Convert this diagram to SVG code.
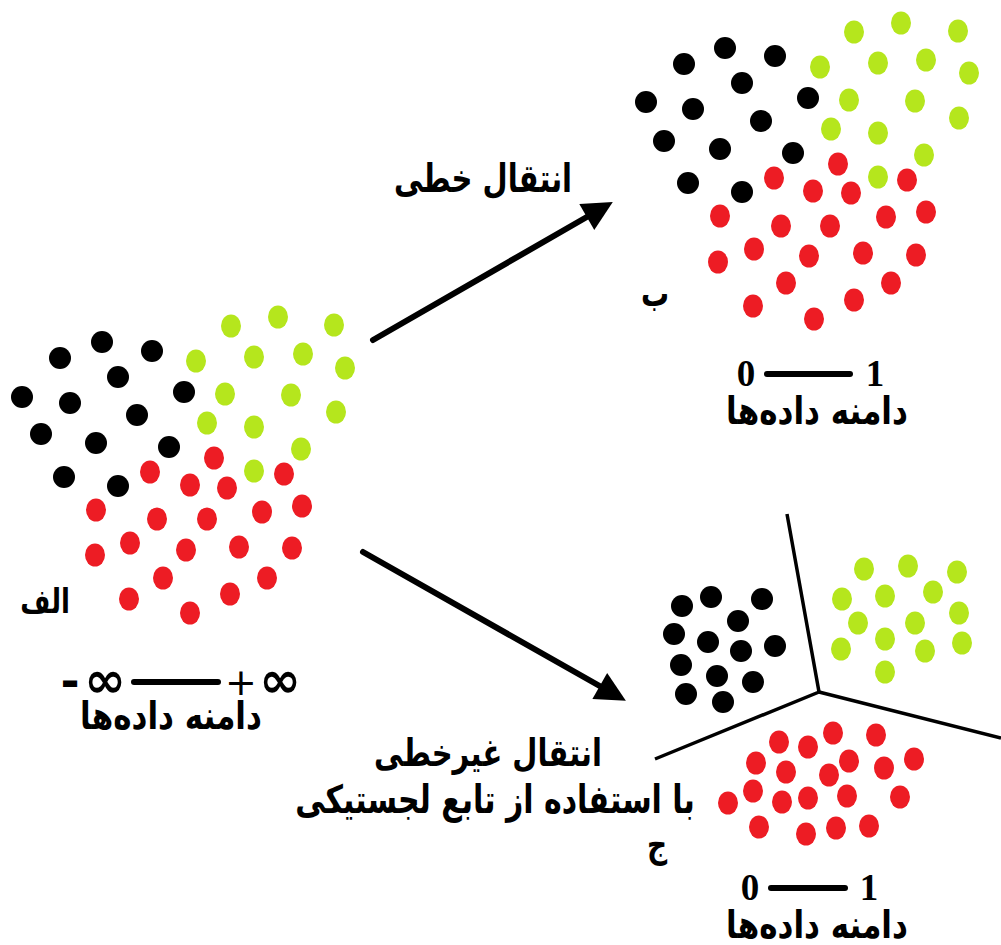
<svg xmlns="http://www.w3.org/2000/svg" width="1001" height="945" viewBox="0 0 1001 945">
<style>
.k{fill:#000}
.g{fill:#b5e61d}
.r{fill:#ed1c24}
.fa{font-family:"DejaVu Sans",sans-serif;font-weight:bold;fill:#000;text-anchor:middle}
.num{font-family:"Liberation Serif",serif;fill:#000;text-anchor:middle}
.sym{font-family:"DejaVu Sans",sans-serif;fill:#000;text-anchor:middle}
.ax{stroke:#000;stroke-width:6;stroke-linecap:round}
.arr{stroke:#000;stroke-width:6;stroke-linecap:round;fill:none}
.sep{stroke:#000;stroke-width:3.5;fill:none;stroke-linejoin:miter}
</style>
<defs>
<marker id="ah" viewBox="0 0 10 10" refX="2" refY="5" markerWidth="6" markerHeight="5" markerUnits="strokeWidth" orient="auto">
<path d="M0,0 L10,5 L0,10 z" fill="#000"/>
</marker>
</defs>
<rect width="1001" height="945" fill="#fff"/>

<g id="cluster-a">
<circle class="k" cx="60" cy="358" r="11"/><circle class="k" cx="102" cy="342" r="11"/><circle class="k" cx="152" cy="351" r="11"/>
<circle class="k" cx="118" cy="377" r="11"/><circle class="k" cx="184" cy="392" r="11"/><circle class="k" cx="22" cy="397" r="11"/>
<circle class="k" cx="70" cy="403" r="11"/><circle class="k" cx="137" cy="415" r="11"/><circle class="k" cx="41" cy="434" r="11"/>
<circle class="k" cx="96" cy="443" r="11"/><circle class="k" cx="169" cy="447" r="11"/><circle class="k" cx="64" cy="477" r="11"/>
<circle class="k" cx="118" cy="486" r="11"/>
<ellipse class="g" cx="231" cy="326" rx="10" ry="11.5"/><ellipse class="g" cx="278" cy="317" rx="10" ry="11.5"/><ellipse class="g" cx="334" cy="325" rx="10" ry="11.5"/>
<ellipse class="g" cx="196" cy="361" rx="10" ry="11.5"/><ellipse class="g" cx="254" cy="357" rx="10" ry="11.5"/><ellipse class="g" cx="303" cy="354" rx="10" ry="11.5"/>
<ellipse class="g" cx="345" cy="368" rx="10" ry="11.5"/><ellipse class="g" cx="225" cy="394" rx="10" ry="11.5"/><ellipse class="g" cx="291" cy="395" rx="10" ry="11.5"/>
<ellipse class="g" cx="336" cy="412" rx="10" ry="11.5"/><ellipse class="g" cx="207" cy="423" rx="10" ry="11.5"/><ellipse class="g" cx="254" cy="427" rx="10" ry="11.5"/>
<ellipse class="g" cx="301" cy="449" rx="10" ry="11.5"/><ellipse class="g" cx="254" cy="471" rx="10" ry="11.5"/>
<ellipse class="r" cx="214" cy="458" rx="10" ry="11.5"/><ellipse class="r" cx="150" cy="472" rx="10" ry="11.5"/><ellipse class="r" cx="190" cy="485" rx="10" ry="11.5"/>
<ellipse class="r" cx="227" cy="488" rx="10" ry="11.5"/><ellipse class="r" cx="284" cy="474" rx="10" ry="11.5"/><ellipse class="r" cx="96" cy="510" rx="10" ry="11.5"/>
<ellipse class="r" cx="157" cy="519" rx="10" ry="11.5"/><ellipse class="r" cx="207" cy="519" rx="10" ry="11.5"/><ellipse class="r" cx="262" cy="512" rx="10" ry="11.5"/>
<ellipse class="r" cx="302" cy="506" rx="10" ry="11.5"/><ellipse class="r" cx="130" cy="543" rx="10" ry="11.5"/><ellipse class="r" cx="95" cy="555" rx="10" ry="11.5"/>
<ellipse class="r" cx="186" cy="550" rx="10" ry="11.5"/><ellipse class="r" cx="239" cy="547" rx="10" ry="11.5"/><ellipse class="r" cx="292" cy="548" rx="10" ry="11.5"/>
<ellipse class="r" cx="163" cy="578" rx="10" ry="11.5"/><ellipse class="r" cx="267" cy="578" rx="10" ry="11.5"/><ellipse class="r" cx="129" cy="599" rx="10" ry="11.5"/>
<ellipse class="r" cx="230" cy="594" rx="10" ry="11.5"/><ellipse class="r" cx="190" cy="613" rx="10" ry="11.5"/>
<text class="fa" transform="translate(45,613) scale(1,1.3)" font-size="26">الف</text>
<text class="sym" x="70" y="697" font-size="46" font-weight="bold">-</text>
<text class="sym" x="105" y="697" font-size="50" font-weight="bold">∞</text>
<line class="ax" x1="134" y1="682" x2="218" y2="682"/>
<text class="sym" x="241" y="695" font-size="38">+</text>
<text class="sym" x="280" y="697" font-size="50" font-weight="bold">∞</text>
<text class="fa" transform="translate(171,729) scale(1,1.25)" font-size="31">دامنه داده‌ها</text>
</g>

<g id="cluster-b">
<circle class="k" cx="684" cy="64" r="11"/><circle class="k" cx="725" cy="48" r="11"/><circle class="k" cx="775" cy="56" r="11"/>
<circle class="k" cx="742" cy="83" r="11"/><circle class="k" cx="808" cy="98" r="11"/><circle class="k" cx="646" cy="102" r="11"/>
<circle class="k" cx="693" cy="109" r="11"/><circle class="k" cx="761" cy="121" r="11"/><circle class="k" cx="664" cy="141" r="11"/>
<circle class="k" cx="720" cy="149" r="11"/><circle class="k" cx="793" cy="153" r="11"/><circle class="k" cx="688" cy="183" r="11"/>
<circle class="k" cx="742" cy="192" r="11"/>
<ellipse class="g" cx="854" cy="32" rx="10" ry="11.5"/><ellipse class="g" cx="901" cy="23" rx="10" ry="11.5"/><ellipse class="g" cx="958" cy="31" rx="10" ry="11.5"/>
<ellipse class="g" cx="820" cy="67" rx="10" ry="11.5"/><ellipse class="g" cx="878" cy="63" rx="10" ry="11.5"/><ellipse class="g" cx="926" cy="60" rx="10" ry="11.5"/>
<ellipse class="g" cx="969" cy="73" rx="10" ry="11.5"/><ellipse class="g" cx="849" cy="100" rx="10" ry="11.5"/><ellipse class="g" cx="915" cy="101" rx="10" ry="11.5"/>
<ellipse class="g" cx="959" cy="118" rx="10" ry="11.5"/><ellipse class="g" cx="831" cy="129" rx="10" ry="11.5"/><ellipse class="g" cx="878" cy="133" rx="10" ry="11.5"/>
<ellipse class="g" cx="924" cy="155" rx="10" ry="11.5"/><ellipse class="g" cx="878" cy="177" rx="10" ry="11.5"/>
<ellipse class="r" cx="838" cy="164" rx="10" ry="11.5"/><ellipse class="r" cx="774" cy="178" rx="10" ry="11.5"/><ellipse class="r" cx="813" cy="191" rx="10" ry="11.5"/>
<ellipse class="r" cx="851" cy="193" rx="10" ry="11.5"/><ellipse class="r" cx="907" cy="180" rx="10" ry="11.5"/><ellipse class="r" cx="720" cy="216" rx="10" ry="11.5"/>
<ellipse class="r" cx="781" cy="226" rx="10" ry="11.5"/><ellipse class="r" cx="830" cy="226" rx="10" ry="11.5"/><ellipse class="r" cx="886" cy="217" rx="10" ry="11.5"/>
<ellipse class="r" cx="926" cy="212" rx="10" ry="11.5"/><ellipse class="r" cx="754" cy="249" rx="10" ry="11.5"/><ellipse class="r" cx="718" cy="262" rx="10" ry="11.5"/>
<ellipse class="r" cx="809" cy="256" rx="10" ry="11.5"/><ellipse class="r" cx="863" cy="253" rx="10" ry="11.5"/><ellipse class="r" cx="916" cy="255" rx="10" ry="11.5"/>
<ellipse class="r" cx="786" cy="283" rx="10" ry="11.5"/><ellipse class="r" cx="891" cy="283" rx="10" ry="11.5"/><ellipse class="r" cx="753" cy="306" rx="10" ry="11.5"/>
<ellipse class="r" cx="854" cy="300" rx="10" ry="11.5"/><ellipse class="r" cx="814" cy="319" rx="10" ry="11.5"/>
<text class="fa" transform="translate(655,306) scale(1,1.3)" font-size="28">ب</text>
<text class="num" x="746" y="386" font-size="37" font-weight="bold">0</text>
<line class="ax" x1="767" y1="374" x2="850" y2="374"/>
<text class="num" x="875" y="386" font-size="37" font-weight="bold">1</text>
<text class="fa" transform="translate(817,424) scale(1,1.25)" font-size="31">دامنه داده‌ها</text>
</g>

<g id="cluster-c">
<polyline class="sep" points="787,514 819,692 655,759"/>
<line class="sep" x1="819" y1="692" x2="1001" y2="738"/>
<circle class="k" cx="682" cy="606" r="11"/><circle class="k" cx="711" cy="597" r="11"/><circle class="k" cx="762" cy="599" r="11"/>
<circle class="k" cx="738" cy="621" r="11"/><circle class="k" cx="674" cy="634" r="11"/><circle class="k" cx="708" cy="642" r="11"/>
<circle class="k" cx="741" cy="651" r="11"/><circle class="k" cx="775" cy="646" r="11"/><circle class="k" cx="681" cy="665" r="11"/>
<circle class="k" cx="717" cy="676" r="11"/><circle class="k" cx="753" cy="682" r="11"/><circle class="k" cx="686" cy="694" r="11"/>
<circle class="k" cx="723" cy="702" r="11"/>
<ellipse class="g" cx="864" cy="569" rx="10" ry="11.5"/><ellipse class="g" cx="908" cy="566" rx="10" ry="11.5"/><ellipse class="g" cx="957" cy="572" rx="10" ry="11.5"/>
<ellipse class="g" cx="842" cy="599" rx="10" ry="11.5"/><ellipse class="g" cx="885" cy="596" rx="10" ry="11.5"/><ellipse class="g" cx="933" cy="592" rx="10" ry="11.5"/>
<ellipse class="g" cx="959" cy="613" rx="10" ry="11.5"/><ellipse class="g" cx="858" cy="623" rx="10" ry="11.5"/><ellipse class="g" cx="915" cy="623" rx="10" ry="11.5"/>
<ellipse class="g" cx="841" cy="649" rx="10" ry="11.5"/><ellipse class="g" cx="885" cy="639" rx="10" ry="11.5"/><ellipse class="g" cx="925" cy="651" rx="10" ry="11.5"/>
<ellipse class="g" cx="962" cy="643" rx="10" ry="11.5"/><ellipse class="g" cx="885" cy="672" rx="10" ry="11.5"/>
<ellipse class="r" cx="833" cy="733" rx="10" ry="11.5"/><ellipse class="r" cx="876" cy="735" rx="10" ry="11.5"/><ellipse class="r" cx="779" cy="742" rx="10" ry="11.5"/>
<ellipse class="r" cx="808" cy="747" rx="10" ry="11.5"/><ellipse class="r" cx="756" cy="763" rx="10" ry="11.5"/><ellipse class="r" cx="849" cy="761" rx="10" ry="11.5"/>
<ellipse class="r" cx="914" cy="759" rx="10" ry="11.5"/><ellipse class="r" cx="786" cy="772" rx="10" ry="11.5"/><ellipse class="r" cx="829" cy="775" rx="10" ry="11.5"/>
<ellipse class="r" cx="884" cy="768" rx="10" ry="11.5"/><ellipse class="r" cx="753" cy="791" rx="10" ry="11.5"/><ellipse class="r" cx="808" cy="798" rx="10" ry="11.5"/>
<ellipse class="r" cx="847" cy="796" rx="10" ry="11.5"/><ellipse class="r" cx="900" cy="797" rx="10" ry="11.5"/><ellipse class="r" cx="728" cy="803" rx="10" ry="11.5"/>
<ellipse class="r" cx="782" cy="802" rx="10" ry="11.5"/><ellipse class="r" cx="759" cy="827" rx="10" ry="11.5"/><ellipse class="r" cx="806" cy="834" rx="10" ry="11.5"/>
<ellipse class="r" cx="836" cy="828" rx="10" ry="11.5"/><ellipse class="r" cx="869" cy="826" rx="10" ry="11.5"/>
<text class="fa" transform="translate(657,857) scale(1,1.3)" font-size="28">ج</text>
<text class="num" x="750" y="900" font-size="37" font-weight="bold">0</text>
<line class="ax" x1="771" y1="888" x2="845" y2="888"/>
<text class="num" x="869" y="900" font-size="37" font-weight="bold">1</text>
<text class="fa" transform="translate(817,938) scale(1,1.25)" font-size="31">دامنه داده‌ها</text>
</g>

<g id="connectors">
<line class="arr" x1="373" y1="340" x2="592" y2="214" marker-end="url(#ah)"/>
<line class="arr" x1="363" y1="552" x2="605" y2="689" marker-end="url(#ah)"/>
<text class="fa" transform="translate(483,192) scale(1,1.35)" font-size="29">انتقال خطی</text>
<text class="fa" transform="translate(488,766) scale(1,1.3)" font-size="29">انتقال غیرخطی</text>
<text class="fa" transform="translate(495,813) scale(1,1.3)" font-size="30">با استفاده از تابع لجستیکی</text>
</g>
</svg>
